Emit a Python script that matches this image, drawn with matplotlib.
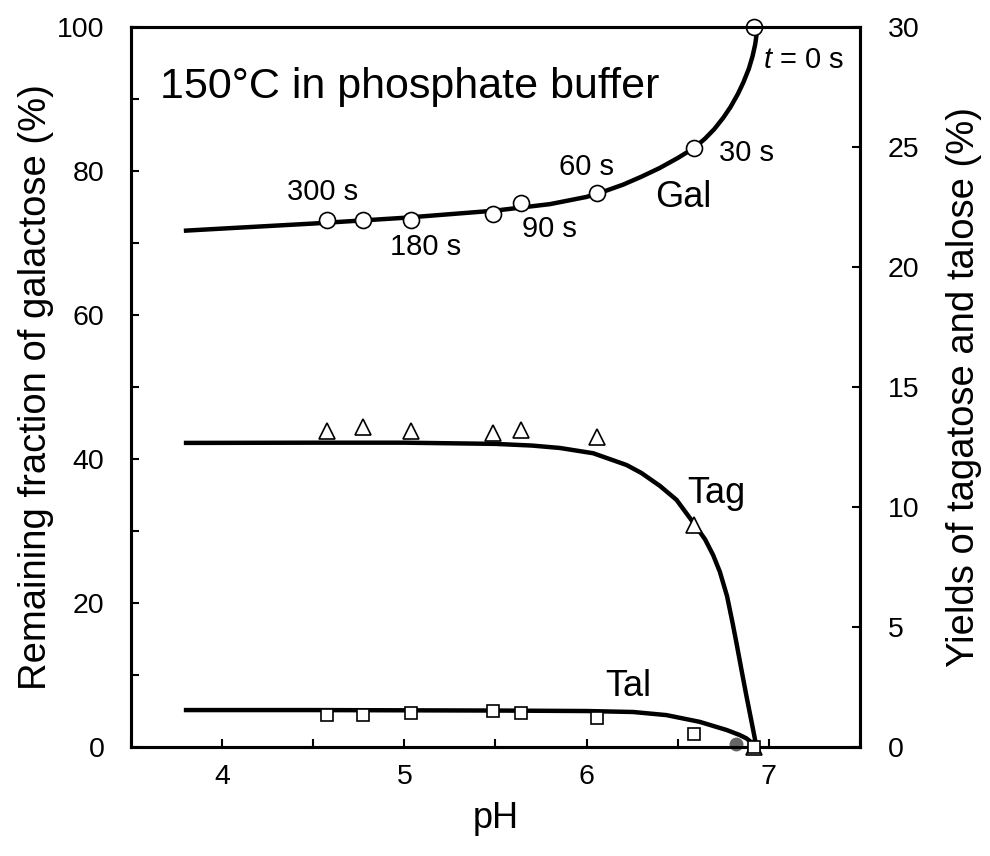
import numpy as np
import matplotlib.pyplot as plt
from matplotlib.ticker import MultipleLocator

plt.rcParams['font.family'] = ['Liberation Sans', 'DejaVu Sans']
plt.rcParams['mathtext.fontset'] = 'custom'
plt.rcParams['mathtext.it'] = 'Liberation Sans:italic'
plt.rcParams['mathtext.rm'] = 'Liberation Sans'

# measured points (pH at each sampling time)
times = ['t = 0 s', '30 s', '60 s', '90 s', '', '180 s', '', '300 s']
ph_pts = [6.92, 6.59, 6.055, 5.64, 5.485, 5.035, 4.775, 4.575]
gal_pts = [100.0, 83.2, 77.0, 75.6, 74.0, 73.2, 73.2, 73.2]          # % remaining (left)
tag_pts = [0.0, 9.25, 12.93, 13.21, 13.07, 13.18, 13.32, 13.18]     # % yield (right)
tal_pts = [0.0, 0.53, 1.20, 1.40, 1.51, 1.42, 1.33, 1.33]           # % yield (right)

# fitted curves
gal_fit_ph = [3.79, 4.0, 4.5, 5.0, 5.5, 5.8, 5.9, 6.0, 6.1, 6.2, 6.3, 6.4, 6.5, 6.59,
              6.65, 6.70, 6.75, 6.79, 6.83, 6.86, 6.89, 6.91, 6.925, 6.935]
gal_fit = [71.7, 72.0, 72.7, 73.5, 74.5, 75.4, 75.9, 76.4, 77.2, 78.1, 79.2, 80.4, 81.8, 83.2,
           84.5, 85.8, 87.4, 88.9, 90.7, 92.3, 94.2, 95.9, 97.6, 99.4]
tag_fit_ph = [3.79, 4.5, 5.0, 5.5, 5.7, 5.853, 6.036, 6.219, 6.3, 6.402, 6.493, 6.59, 6.65,
              6.694, 6.731, 6.77, 6.80, 6.823, 6.85, 6.877, 6.905, 6.932]
tag_fit = [12.67, 12.68, 12.68, 12.63, 12.56, 12.46, 12.24, 11.75, 11.42, 10.88, 10.3, 9.3,
           8.65, 8.0, 7.3, 6.3, 5.2, 4.3, 3.2, 2.12, 1.05, 0.0]
tal_fit_ph = [3.79, 4.5, 5.0, 5.5, 6.0, 6.255, 6.438, 6.62, 6.768, 6.84, 6.877, 6.923]
tal_fit = [1.54, 1.54, 1.53, 1.52, 1.50, 1.46, 1.33, 1.05, 0.71, 0.50, 0.36, 0.08]

fig = plt.figure(figsize=(9.9, 8.56), dpi=100)
ax = fig.add_axes([0.1323, 0.1273, 0.7364, 0.8412])
ax2 = ax.twinx()

ax.set_xlim(3.5, 7.5)
ax.set_ylim(0, 100)
ax2.set_ylim(0, 30)

ax.plot(gal_fit_ph, gal_fit, color='black', lw=3.2, solid_capstyle='butt',
        solid_joinstyle='round', zorder=3)
ax2.plot(tag_fit_ph, tag_fit, color='black', lw=3.2, solid_capstyle='butt',
         solid_joinstyle='round', zorder=3)
ax2.plot(tal_fit_ph, tal_fit, color='black', lw=3.2, solid_capstyle='butt',
         solid_joinstyle='round', zorder=3)

ax2.plot([6.82], [0.12], 'o', color='#666666', ms=10, mec='none', clip_on=False, zorder=2)
ax.plot(ph_pts, gal_pts, 'o', ms=11.5, mfc='white', mec='black', mew=1.2,
        clip_on=False, zorder=5)
ax2.plot(ph_pts, tag_pts, '^', ms=12, mfc='white', mec='black', mew=1.2,
         clip_on=False, zorder=5)
ax2.plot(ph_pts, tal_pts, 's', ms=8, mfc='white', mec='black', mew=1.2,
         clip_on=False, zorder=5)

fs_tick = 20.5
for a in (ax, ax2):
    for s in a.spines.values():
        s.set_linewidth(2.2)
ax.xaxis.set_major_locator(MultipleLocator(1))
ax.xaxis.set_minor_locator(MultipleLocator(0.5))
ax.yaxis.set_major_locator(MultipleLocator(20))
ax.yaxis.set_minor_locator(MultipleLocator(10))
ax2.yaxis.set_major_locator(MultipleLocator(5))
ax.tick_params(axis='x', which='both', direction='in', length=6, width=1.5,
               labelsize=fs_tick, pad=12, top=False)
ax.tick_params(axis='y', which='both', direction='in', length=6, width=1.5,
               labelsize=fs_tick, pad=19)
ax2.tick_params(axis='y', direction='in', length=6, width=1.5, labelsize=fs_tick, pad=20)

ax.set_xlabel('pH', fontsize=26, labelpad=8)
ax.set_ylabel('Remaining fraction of galactose (%)', fontsize=27.5, labelpad=2)
ax2.set_ylabel('Yields of tagatose and talose (%)', fontsize=27.5, labelpad=19)

fs_ann = 21
ax.text(3.66, 91.6, '150°C in phosphate buffer', fontsize=31, ha='left', va='center')
ax.text(4.553, 77.1, '300 s', fontsize=fs_ann, ha='center', va='center')
ax.text(5.118, 69.4, '180 s', fontsize=fs_ann, ha='center', va='center')
ax.text(5.798, 71.9, '90 s', fontsize=fs_ann, ha='center', va='center')
ax.text(6.0, 80.6, '60 s', fontsize=fs_ann, ha='center', va='center')
ax.text(6.877, 82.5, '30 s', fontsize=fs_ann, ha='center', va='center')
ax.text(6.967, 95.4, r'$t$ = 0 s', fontsize=fs_ann, ha='left', va='center')
ax.text(6.528, 76.25, 'Gal', fontsize=26, ha='center', va='center')
ax.text(6.713, 35.2, 'Tag', fontsize=26, ha='center', va='center')
ax.text(6.226, 8.4, 'Tal', fontsize=26, ha='center', va='center')

fig.savefig('out.png', dpi=100)
